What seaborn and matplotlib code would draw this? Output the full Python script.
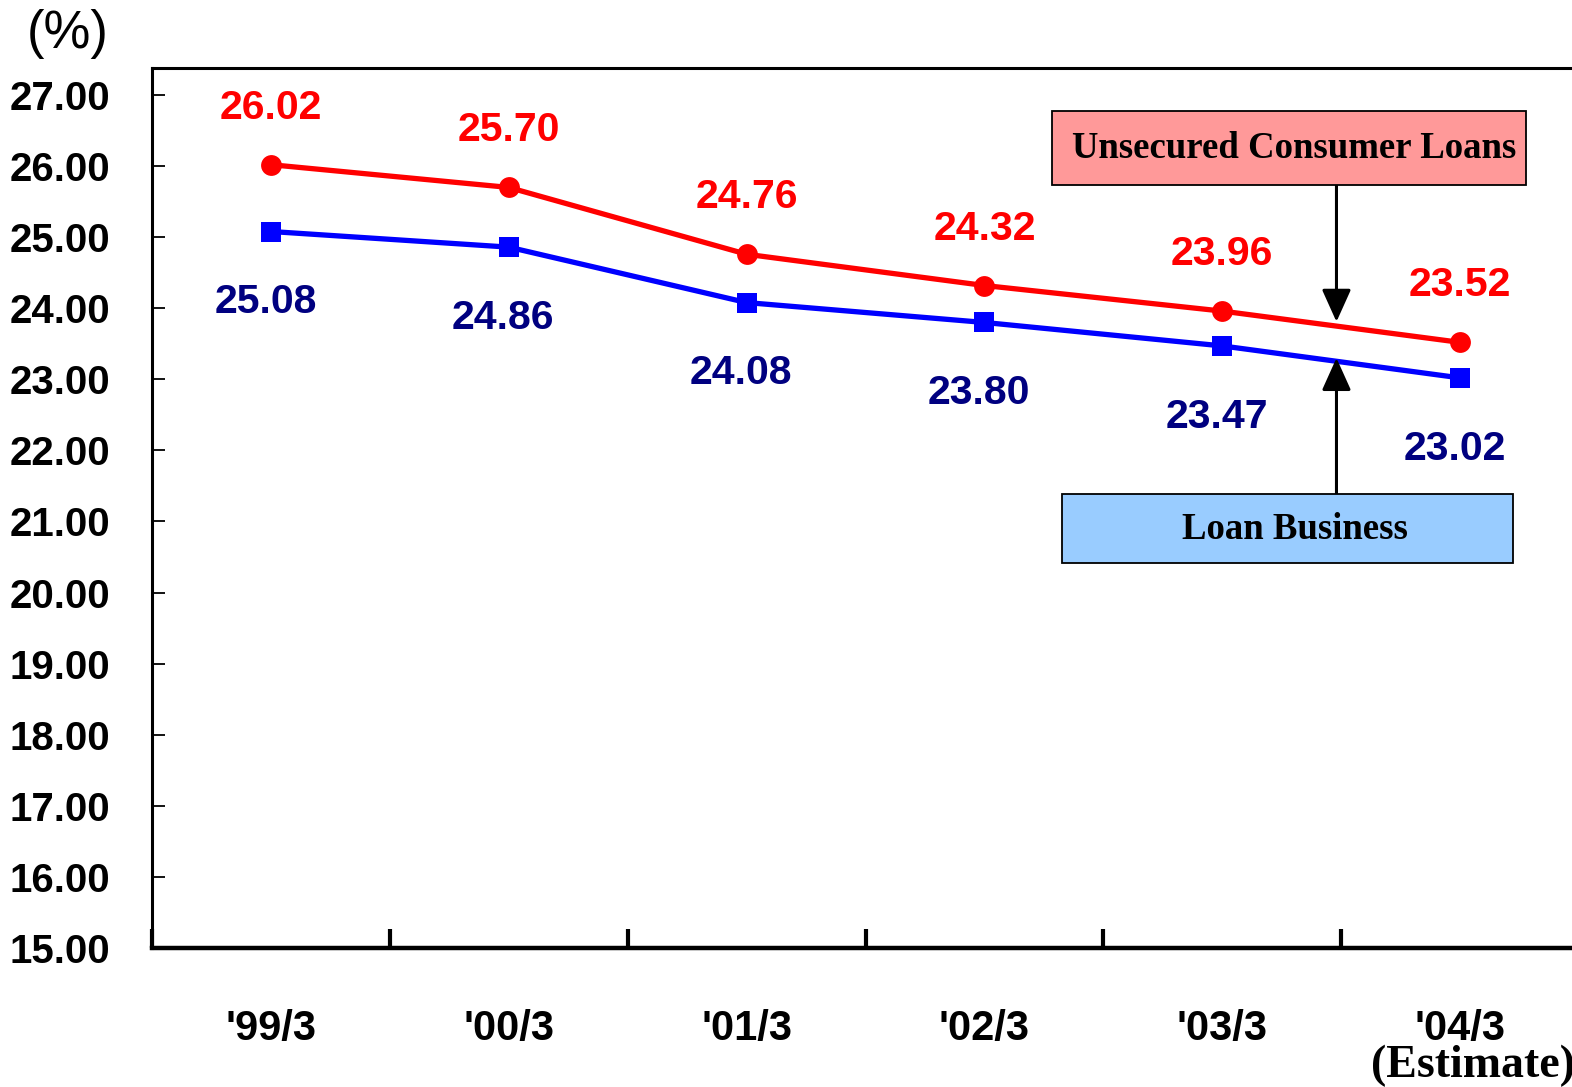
import matplotlib
matplotlib.use("Agg")
import matplotlib.pyplot as plt
import seaborn as sns
from matplotlib.patches import Rectangle

# data
periods = ["'99/3", "'00/3", "'01/3", "'02/3", "'03/3", "'04/3"]
unsecured = [26.02, 25.70, 24.76, 24.32, 23.96, 23.52]
loan_business = [25.08, 24.86, 24.08, 23.80, 23.47, 23.02]
y_ticks = [15, 16, 17, 18, 19, 20, 21, 22, 23, 24, 25, 26, 27]

sns.set_style("ticks")
plt.rcParams['text.color'] = 'black'
plt.rcParams['xtick.color'] = 'black'
plt.rcParams['ytick.color'] = 'black'

sans = ['Liberation Sans', 'DejaVu Sans']
serif = ['Liberation Serif', 'DejaVu Serif']

fig = plt.figure(figsize=(15.72, 10.87), dpi=100)
ax = fig.add_axes([0.0967, 0.128, 0.9078, 0.8094])

pos = list(range(len(periods)))
sns.lineplot(x=pos, y=unsecured, ax=ax, color='#FF0000', linewidth=3.8,
             marker='o', markersize=15, markeredgewidth=0)
sns.lineplot(x=pos, y=loan_business, ax=ax, color='#0000FF', linewidth=3.8,
             marker='s', markersize=14, markeredgewidth=0)

# value labels
for i, v in enumerate(unsecured):
    ax.annotate(f'{v:.2f}', (i, v), xytext=(0, 41), textcoords='offset points',
                ha='center', va='center', color='#FF0000', fontsize=29.5,
                fontweight='bold', family=sans)
for i, v in enumerate(loan_business):
    ax.annotate(f'{v:.2f}', (i, v), xytext=(-4, -51), textcoords='offset points',
                ha='center', va='center', color='#000080', fontsize=29.5,
                fontweight='bold', family=sans)

ax.set_xlim(-0.5, 5.5)
ax.set_ylim(15, 27.38)

ax.set_yticks(y_ticks)
ax.set_yticklabels([f'{t:.2f}' for t in y_ticks], fontsize=29,
                   fontweight='bold', family=sans)
ax.tick_params(axis='y', direction='in', length=9, width=1.3, pad=30)

ax.set_xticks(pos)
ax.set_xticklabels(periods, fontsize=30, fontweight='bold', family=sans)
ax.set_xticks([p - 0.5 for p in pos] + [5.5], minor=True)
ax.tick_params(axis='x', which='major', length=0, pad=44)
ax.tick_params(axis='x', which='minor', direction='in', length=14, width=3)

for side in ['left', 'top', 'right']:
    ax.spines[side].set_linewidth(2.2)
ax.spines['bottom'].set_linewidth(3.2)
for s in ax.spines.values():
    s.set_color('black')

# legend boxes with arrows
ax.add_patch(Rectangle((0.631, 0.867), 0.332, 0.084, transform=ax.transAxes,
                       facecolor='#FF9999', edgecolor='black', linewidth=1.3,
                       zorder=5))
ax.text(0.8, 0.909, 'Unsecured Consumer Loans', transform=ax.transAxes,
        ha='center', va='center', fontsize=26.5, fontweight='bold',
        family=serif, zorder=6)
ax.add_patch(Rectangle((0.638, 0.4375), 0.316, 0.0785, transform=ax.transAxes,
                       facecolor='#99CCFF', edgecolor='black', linewidth=1.3,
                       zorder=5))
ax.text(0.801, 0.476, 'Loan Business', transform=ax.transAxes,
        ha='center', va='center', fontsize=26.5, fontweight='bold',
        family=serif, zorder=6)

arrow_x = 4.48
head = '-|>,head_length=1.0,head_width=0.45'
ax.annotate('', xy=(arrow_x, 23.81), xytext=(arrow_x, 0.867),
            textcoords=('data', 'axes fraction'),
            arrowprops=dict(arrowstyle=head, mutation_scale=20, color='black',
                            lw=2.2, shrinkA=0, shrinkB=0))
ax.annotate('', xy=(arrow_x, 23.30), xytext=(arrow_x, 0.516),
            textcoords=('data', 'axes fraction'),
            arrowprops=dict(arrowstyle=head, mutation_scale=20, color='black',
                            lw=2.2, shrinkA=0, shrinkB=0))

fig.text(0.043, 0.969, '(%)', ha='center', va='center', fontsize=38,
         family=sans)
fig.text(0.937, 0.019, '(Estimate)', ha='center', va='center', fontsize=33,
         fontweight='bold', family=serif)

fig.savefig('out.png', dpi=100)
